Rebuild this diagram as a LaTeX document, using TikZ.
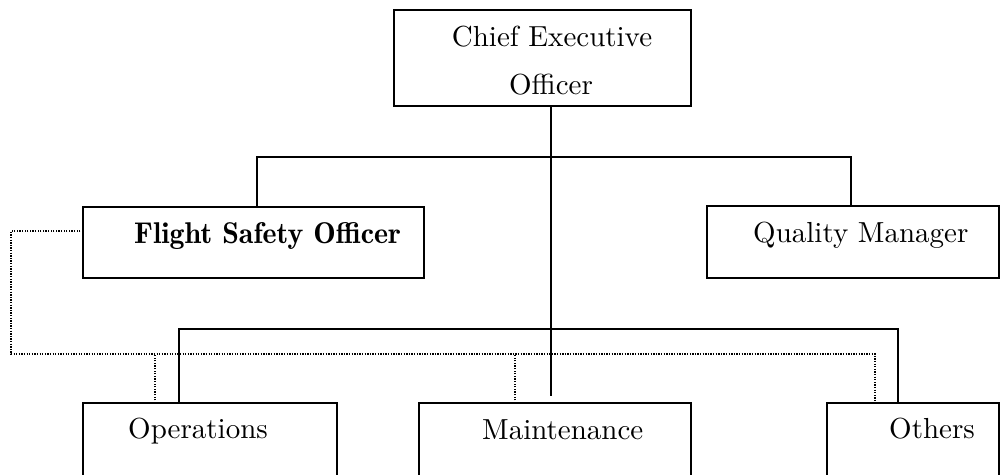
\documentclass[tikz,border=0pt]{standalone}
\usepackage{fontspec}
\setmainfont{lmroman10-regular.otf}[BoldFont=lmromandemi10-regular.otf]
\tikzset{>=stealth}
\tikzset{
  box/.style={draw, line width=1.6pt, inner sep=0pt, outer sep=0pt, anchor=north west},
  lbl/.style={anchor=base west, inner sep=0pt, font=\fontsize{29}{34}\selectfont},
  link/.style={line width=1.6pt},
  trunk/.style={line width=2.8pt},
  dotline/.style={dash pattern=on 1.3pt off 1.3pt, line width=1.3pt}
}

\begin{document}
\begin{tikzpicture}[x=1pt, y=-1pt]
\useasboundingbox (0,0) rectangle (1001,474);
\clip (0,0) rectangle (1001,474);
% boxes
\node[box, minimum width=297pt, minimum height=96pt] (ceo) at (394,10) {};
\node[box, minimum width=341pt, minimum height=71pt] (fso) at (83,207) {};
\node[box, minimum width=292pt, minimum height=72pt] (qm) at (707,206) {};
\node[box, minimum width=254pt, minimum height=110pt] (ops) at (83,403) {};
\node[box, minimum width=272pt, minimum height=110pt] (mnt) at (419,403) {};
\node[box, minimum width=172pt, minimum height=110pt] (oth) at (827,403) {};
% texts
\node[lbl, anchor=base] (ceo line1) at (552,46) {Chief Executive};
\node[lbl, anchor=base] (ceo line2) at (551,94) {Officer};
\node[lbl, font=\fontsize{30}{32}\selectfont\bfseries] (fso text) at (134,243) {Flight Safety Officer};
\node[lbl] (qm text) at (753,242) {Quality Manager};
\node[lbl] (ops text) at (128,438) {Operations};
\node[lbl] (mnt text) at (482,439) {Maintenance};
\node[lbl] (oth text) at (889,438) {Others};
% lines
\coordinate (trunk end) at (551,396);
\coordinate (upper bar) at (551,157);
\coordinate (lower bar) at (551,329);
\coordinate (dot left) at (11,354);
\draw[trunk] (ceo.south -| trunk end) -- (trunk end);
\draw[link] ([xshift=174pt]fso.north west) |- (upper bar) -| ([xshift=144pt]qm.north west);
\draw[link] ([xshift=96pt]ops.north west) |- (lower bar) -| ([xshift=71pt]oth.north west);
\draw[dotline] (fso.west |- 0,231) -| (dot left) -| ([xshift=48pt]oth.north west);
\draw[dotline] ([xshift=72pt]ops.north west) -- ++(0,-49);
\draw[dotline] ([xshift=96pt]mnt.north west) -- ++(0,-49);
\end{tikzpicture}
\end{document}
